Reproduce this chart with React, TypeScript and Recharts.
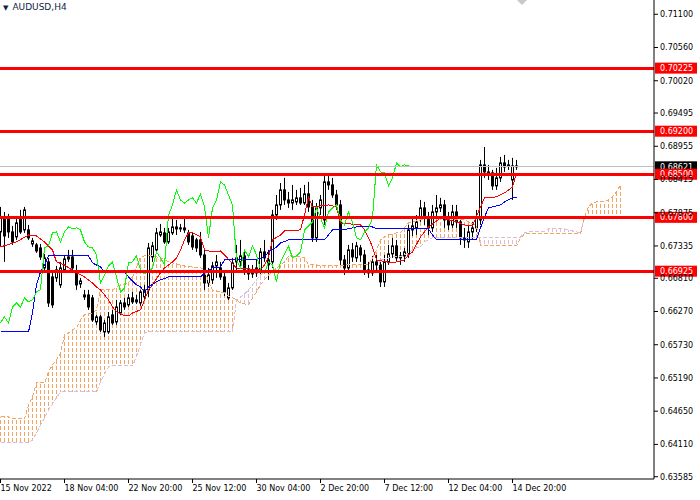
import { ComposedChart, Bar, Line, XAxis, YAxis, ReferenceLine } from 'recharts';

// AUDUSD H4 candles, bar 0 = 15 Nov 2022 12:00
const opens = [
  0.67563, 0.67791, 0.67791, 0.67563, 0.67482, 0.67807, 0.67596, 0.67596, 0.67368, 0.67352,
  0.67303, 0.66978, 0.67076, 0.66832, 0.66816, 0.66702, 0.66946, 0.67124, 0.67157, 0.66913,
  0.66718, 0.66539, 0.66539, 0.66491, 0.66101, 0.66182, 0.65938, 0.65938, 0.66214, 0.66101,
  0.66247, 0.66409, 0.66377, 0.66491, 0.66426, 0.66409, 0.66507, 0.66621, 0.67157, 0.67271,
  0.67514, 0.67547, 0.67401, 0.67547, 0.67644, 0.67612, 0.67628, 0.67547, 0.67498, 0.67433,
  0.67433, 0.67189, 0.66734, 0.66783, 0.67011, 0.66978, 0.66832, 0.66491, 0.66653, 0.67141,
  0.67076, 0.67173, 0.66946, 0.66881, 0.66897, 0.66946, 0.67238, 0.67108, 0.67076, 0.67839,
  0.68002, 0.68246, 0.68083, 0.68034, 0.68051, 0.68116, 0.68034, 0.68181, 0.67969, 0.67466,
  0.67953, 0.67758, 0.68376, 0.68327, 0.68164, 0.68002, 0.67108, 0.66978, 0.67271, 0.67141,
  0.67303, 0.67189, 0.66946, 0.66897, 0.67076, 0.67027, 0.66751, 0.67076, 0.67206, 0.67336,
  0.67141, 0.67173, 0.67206, 0.67596, 0.67628, 0.67807, 0.67953, 0.67791, 0.67628, 0.67888,
  0.67953, 0.68002, 0.67758, 0.67677, 0.67888, 0.67726, 0.67466, 0.67401, 0.67563, 0.67628,
  0.67758, 0.68652, 0.68538, 0.68522, 0.68311, 0.68441, 0.68684, 0.68636, 0.68408, 0.68636,
];
const highs = [
  0.67969, 0.67888, 0.67856, 0.67661, 0.67823, 0.67921, 0.67969, 0.67677, 0.67466, 0.67384,
  0.67368, 0.67206, 0.67141, 0.66913, 0.67011, 0.67076, 0.67189, 0.67271, 0.67271, 0.67027,
  0.66816, 0.66621, 0.66621, 0.66539, 0.66214, 0.66214, 0.66133, 0.66263, 0.66296, 0.66458,
  0.66458, 0.66491, 0.66556, 0.66588, 0.66539, 0.66621, 0.66702, 0.67384, 0.67401, 0.67628,
  0.67693, 0.67628, 0.67628, 0.67791, 0.67758, 0.67693, 0.67791, 0.67596, 0.67563, 0.67466,
  0.67563, 0.67271, 0.66978, 0.67076, 0.67189, 0.67076, 0.66913, 0.66734, 0.67141, 0.67352,
  0.67433, 0.67271, 0.67027, 0.67027, 0.67108, 0.67303, 0.67433, 0.67271, 0.67921, 0.68164,
  0.68359, 0.68441, 0.68213, 0.68327, 0.68246, 0.68278, 0.68327, 0.68376, 0.68083, 0.68034,
  0.68164, 0.68489, 0.68489, 0.68441, 0.68246, 0.68083, 0.67189, 0.67352, 0.67384, 0.67401,
  0.67352, 0.67271, 0.67076, 0.67173, 0.67189, 0.67076, 0.67189, 0.67352, 0.67466, 0.67433,
  0.67238, 0.67303, 0.67677, 0.67791, 0.67839, 0.68083, 0.68051, 0.67888, 0.68002, 0.68164,
  0.68116, 0.68083, 0.67888, 0.68002, 0.68002, 0.67791, 0.67628, 0.67677, 0.67726, 0.67921,
  0.68733, 0.68944, 0.68652, 0.68571, 0.68603, 0.68782, 0.68814, 0.68733, 0.68766, 0.68733,
];
const lows = [
  0.67319, 0.67076, 0.67466, 0.67352, 0.67433, 0.67531, 0.67547, 0.67433, 0.67319, 0.67222,
  0.67108, 0.66913, 0.66344, 0.66328, 0.66751, 0.66653, 0.66913, 0.67076, 0.66946, 0.66621,
  0.66653, 0.66458, 0.66296, 0.66101, 0.66052, 0.65938, 0.65857, 0.65906, 0.66052, 0.66052,
  0.66214, 0.66296, 0.66344, 0.66393, 0.66393, 0.66361, 0.66458, 0.66507, 0.67076, 0.67238,
  0.67482, 0.67368, 0.67368, 0.67514, 0.67514, 0.67563, 0.67547, 0.67352, 0.67271, 0.67238,
  0.67141, 0.66621, 0.66669, 0.66718, 0.66816, 0.66783, 0.66523, 0.66458, 0.66621, 0.66946,
  0.66978, 0.66864, 0.66783, 0.66816, 0.66832, 0.66864, 0.67076, 0.66783, 0.66978, 0.67758,
  0.67921, 0.68002, 0.67953, 0.67921, 0.68002, 0.68002, 0.68002, 0.67888, 0.67401, 0.67401,
  0.67839, 0.67677, 0.68246, 0.68116, 0.67921, 0.67027, 0.66864, 0.66913, 0.67076, 0.67076,
  0.67076, 0.66864, 0.66816, 0.66848, 0.66913, 0.66669, 0.66669, 0.67027, 0.67141, 0.67076,
  0.67027, 0.67076, 0.67141, 0.67498, 0.67514, 0.67726, 0.67677, 0.67514, 0.67563, 0.67791,
  0.67888, 0.67628, 0.67596, 0.67628, 0.67628, 0.67352, 0.67303, 0.67303, 0.67433, 0.67563,
  0.67677, 0.68441, 0.68408, 0.68246, 0.68246, 0.68376, 0.68538, 0.68571, 0.68083, 0.68571,
];
const closes = [
  0.67807, 0.67498, 0.67563, 0.67401, 0.67709, 0.67563, 0.67921, 0.67466, 0.67417, 0.67254,
  0.67157, 0.67141, 0.66409, 0.66377, 0.66946, 0.66978, 0.67124, 0.67157, 0.66978, 0.66702,
  0.66767, 0.66507, 0.66344, 0.66133, 0.66182, 0.65971, 0.66084, 0.66182, 0.66084, 0.66344,
  0.66409, 0.66344, 0.66491, 0.66426, 0.66458, 0.66588, 0.66621, 0.67303, 0.67336, 0.67547,
  0.67563, 0.67401, 0.67563, 0.67644, 0.67612, 0.67628, 0.67596, 0.67401, 0.67319, 0.67303,
  0.67189, 0.66734, 0.66864, 0.67011, 0.67076, 0.66832, 0.66588, 0.66653, 0.67059, 0.67076,
  0.67173, 0.66946, 0.66881, 0.66913, 0.66978, 0.67238, 0.67141, 0.67027, 0.67839, 0.68002,
  0.68246, 0.68083, 0.68034, 0.68083, 0.68116, 0.68034, 0.68181, 0.67969, 0.67466, 0.67953,
  0.68083, 0.68376, 0.68327, 0.68164, 0.68002, 0.67108, 0.66978, 0.67271, 0.67157, 0.67336,
  0.67189, 0.66946, 0.66897, 0.67076, 0.67027, 0.66751, 0.67076, 0.67206, 0.67336, 0.67141,
  0.67173, 0.67238, 0.67596, 0.67661, 0.67726, 0.67953, 0.67791, 0.67628, 0.67888, 0.67953,
  0.68002, 0.67758, 0.67677, 0.67888, 0.67726, 0.67466, 0.67433, 0.67563, 0.67628, 0.67791,
  0.68652, 0.68538, 0.68522, 0.68311, 0.68441, 0.68684, 0.68619, 0.68652, 0.68636, 0.68621,
];

// Ichimoku: tenkan / kijun turning points [bar, price]
const tenkan = [
  [0, 0.67319], [4, 0.67401], [7, 0.67514], [9, 0.67498], [11, 0.67401], [13, 0.67271], [14, 0.67076],
  [16, 0.67027], [19, 0.66897], [21, 0.66832], [23, 0.66734], [24, 0.66669], [25, 0.66621], [27, 0.66458],
  [28, 0.66344], [29, 0.66263], [31, 0.66198], [32, 0.66198], [33, 0.66247], [35, 0.66296], [36, 0.66458],
  [37, 0.66621], [38, 0.66702], [40, 0.66897], [41, 0.66978], [43, 0.67076], [44, 0.67141], [45, 0.67271],
  [46, 0.67433], [47, 0.67547], [48, 0.67547], [50, 0.67482], [51, 0.67271], [53, 0.67238], [55, 0.67254],
  [56, 0.67189], [59, 0.66978], [65, 0.66946], [66, 0.67027], [67, 0.67157], [68, 0.67433], [70, 0.67514],
  [71, 0.67579], [75, 0.67596], [76, 0.67839], [77, 0.68132], [78, 0.67969], [82, 0.68002], [84, 0.67969],
  [85, 0.67709], [90, 0.67677], [91, 0.67596], [92, 0.67466], [93, 0.67319], [94, 0.67108], [98, 0.67059],
  [101, 0.67108], [102, 0.67189], [103, 0.67238], [105, 0.67482], [107, 0.67644], [110, 0.67791],
  [114, 0.67726], [116, 0.67677], [118, 0.67661], [120, 0.67969], [121, 0.68116], [124, 0.68132],
  [126, 0.68197], [128, 0.68294], [129, 0.68522],
];
const kijun = [
  [0, 0.65938], [7, 0.65938], [8, 0.66247], [9, 0.66702], [10, 0.66913], [11, 0.67027], [12, 0.67173],
  [22, 0.67173], [23, 0.67059], [25, 0.66994], [26, 0.66913], [31, 0.66913], [32, 0.66832], [34, 0.66702],
  [35, 0.66669], [36, 0.66588], [37, 0.66669], [39, 0.66751], [40, 0.66783], [42, 0.66832], [50, 0.66832],
  [51, 0.66897], [53, 0.66978], [55, 0.66994], [56, 0.67108], [65, 0.67124], [66, 0.67157], [67, 0.67238],
  [69, 0.67319], [70, 0.67384], [72, 0.67433], [81, 0.67433], [82, 0.67514], [83, 0.67596], [87, 0.67612],
  [88, 0.67628], [89, 0.67644], [93, 0.67644], [94, 0.67612], [107, 0.67612], [108, 0.67514], [109, 0.67433],
  [119, 0.67433], [120, 0.67628], [121, 0.67807], [122, 0.67953], [123, 0.67969], [125, 0.68002],
  [126, 0.68051], [128, 0.68116], [129, 0.68116],
];

// senkou spans, one value per bar (26 bars past the last candle)
const spanA = [
  0.64557, 0.64557, 0.64557, 0.64524, 0.64524, 0.64524, 0.64524, 0.64752, 0.64882, 0.65109,
  0.65109, 0.65109, 0.65288, 0.65402, 0.65483, 0.65597, 0.65889, 0.65922, 0.65971, 0.66003,
  0.66133, 0.66214, 0.66231, 0.66247, 0.66296, 0.66621, 0.66621, 0.66621, 0.66621, 0.66669,
  0.66702, 0.66718, 0.66734, 0.66832, 0.66994, 0.67157, 0.67173, 0.67173, 0.67173, 0.67157,
  0.67141, 0.67108, 0.67076, 0.67059, 0.67043, 0.67027, 0.67011, 0.66994, 0.66994, 0.66978,
  0.66978, 0.66946, 0.66751, 0.66621, 0.66604, 0.66588, 0.66572, 0.66523, 0.66491, 0.66458,
  0.66409, 0.66393, 0.66377, 0.66491, 0.66588, 0.66702, 0.66783, 0.66864, 0.66913, 0.66978,
  0.67027, 0.67076, 0.67173, 0.67173, 0.67157, 0.67157, 0.67141, 0.67027, 0.67027, 0.67027,
  0.67011, 0.67011, 0.67011, 0.67011, 0.67011, 0.67011, 0.67027, 0.67027, 0.67027, 0.67027,
  0.67027, 0.67027, 0.67027, 0.67141, 0.67271, 0.67433, 0.67482, 0.67514, 0.67531, 0.67547,
  0.67547, 0.67628, 0.67709, 0.67726, 0.67742, 0.67758, 0.67774, 0.67791, 0.67791, 0.67791,
  0.67791, 0.67791, 0.67791, 0.67758, 0.67758, 0.67758, 0.67758, 0.67726, 0.67693, 0.67661,
  0.67336, 0.67336, 0.67336, 0.67336, 0.67336, 0.67336, 0.67336, 0.67336, 0.67336, 0.67336,
  0.67466, 0.67531, 0.67531, 0.67531, 0.67531, 0.67531, 0.67531, 0.67531, 0.67531, 0.67531,
  0.67531, 0.67531, 0.67531, 0.67531, 0.67531, 0.67531, 0.67807, 0.67969, 0.68034, 0.68051,
  0.68051, 0.68051, 0.68083, 0.68132, 0.68213, 0.68327,
];
const spanB = [
  0.64134, 0.64134, 0.64134, 0.64134, 0.64134, 0.64134, 0.64134, 0.64134, 0.64183, 0.64297,
  0.64427, 0.64541, 0.64671, 0.64768, 0.64866, 0.64963, 0.64963, 0.64963, 0.64963, 0.64963,
  0.64963, 0.64963, 0.64963, 0.64963, 0.64963, 0.65126, 0.65256, 0.65369, 0.65386, 0.65386,
  0.65386, 0.65386, 0.65386, 0.65386, 0.65532, 0.65727, 0.65922, 0.65938, 0.65938, 0.65938,
  0.65938, 0.65938, 0.65938, 0.65938, 0.65938, 0.65938, 0.65938, 0.65938, 0.65938, 0.65938,
  0.65938, 0.65938, 0.65938, 0.65938, 0.65938, 0.65938, 0.65938, 0.65938, 0.65938, 0.66458,
  0.66507, 0.66556, 0.66621, 0.66702, 0.66783, 0.66864, 0.66897, 0.66897, 0.66897, 0.66897,
  0.66897, 0.66897, 0.66897, 0.66897, 0.66897, 0.66897, 0.66897, 0.66897, 0.66897, 0.66897,
  0.66897, 0.66897, 0.66897, 0.66897, 0.66897, 0.66897, 0.66897, 0.66897, 0.66897, 0.66897,
  0.66897, 0.66897, 0.66897, 0.66897, 0.66897, 0.67108, 0.67124, 0.67141, 0.67157, 0.67157,
  0.67157, 0.67189, 0.67222, 0.67271, 0.67303, 0.67319, 0.67401, 0.67433, 0.67466, 0.67466,
  0.67466, 0.67466, 0.67466, 0.67466, 0.67466, 0.67466, 0.67466, 0.67466, 0.67466, 0.67466,
  0.67466, 0.67466, 0.67466, 0.67466, 0.67466, 0.67466, 0.67466, 0.67466, 0.67466, 0.67466,
  0.67482, 0.67547, 0.67563, 0.67563, 0.67563, 0.67563, 0.67563, 0.67612, 0.67612, 0.67612,
  0.67612, 0.67612, 0.67596, 0.67579, 0.67563, 0.67547, 0.67791, 0.67791, 0.67791, 0.67791,
  0.67791, 0.67791, 0.67791, 0.67791, 0.67791, 0.67791,
];

const levels = [0.70225, 0.692, 0.685, 0.678, 0.66925];
const bid = 0.68621;
const priceTicks = [
  0.711, 0.7056, 0.7002, 0.69495, 0.68955, 0.68415, 0.67875, 0.67335,
  0.6681, 0.6627, 0.6573, 0.6519, 0.6465, 0.6411, 0.63585,
];
const timeTicks = [0, 16, 32, 48, 64, 80, 96, 112, 128];
const timeLabels = [
  '15 Nov 2022', '18 Nov 04:00', '22 Nov 20:00', '25 Nov 12:00', '30 Nov 04:00',
  '2 Dec 20:00', '7 Dec 12:00', '12 Dec 04:00', '14 Dec 20:00',
];

const X_DOMAIN = [-0.125, 163.375];
const Y_DOMAIN = [0.63548, 0.71332];
const FONT = 'DejaVu Sans';

const rows = spanA.map((a, i) => {
  const b = spanB[i];
  const has = i < closes.length;
  return {
    i,
    a,
    b,
    cloud: [Math.min(a, b), Math.max(a, b)],
    o: has ? opens[i] : undefined,
    h: has ? highs[i] : undefined,
    l: has ? lows[i] : undefined,
    c: has ? closes[i] : undefined,
    hl: has ? [lows[i], highs[i]] : undefined,
  };
});
const tenkanRows = tenkan.map(([i, v]) => ({ i, v }));
const kijunRows = kijun.map(([i, v]) => ({ i, v }));
// chikou = close drawn 26 bars back
const chikouRows = closes.slice(26).map((v, i) => ({ i, v }));

const Candle = (props: any) => {
  const { x, y, width, height, payload } = props;
  if (payload == null || payload.o == null || !Number.isFinite(y) || !Number.isFinite(height)) return <g />;
  const top = Math.min(y, y + height);
  const bot = Math.max(y, y + height);
  const span = payload.h - payload.l;
  const py = (v: number) => (span > 0 ? top + ((payload.h - v) / span) * (bot - top) : top);
  const cx = Math.round(x + width / 2) + 0.5;
  const bTop = py(Math.max(payload.o, payload.c));
  const bBot = py(Math.min(payload.o, payload.c));
  const up = payload.c >= payload.o;
  return (
    <g>
      <line x1={cx} x2={cx} y1={top} y2={bot} stroke="#000" strokeWidth={1} />
      <rect
        x={cx - 1}
        y={bTop}
        width={2}
        height={Math.max(bBot - bTop, 0.5)}
        fill={up ? '#fff' : '#000'}
        stroke="#000"
        strokeWidth={1}
      />
    </g>
  );
};

const CloudHatch = (props: any) => {
  const { x, y, width, height, payload } = props;
  if (payload == null || !Number.isFinite(y) || !Number.isFinite(height)) return <g />;
  const top = Math.min(y, y + height);
  const bot = Math.max(y, y + height);
  const cx = Math.round(x + width / 2) + 0.5;
  const color = payload.a >= payload.b ? '#f4a460' : '#d8bfd8';
  return (
    <line x1={cx} x2={cx} y1={top} y2={bot} stroke={color} strokeWidth={1} strokeDasharray="4 2" strokeDashoffset={top % 6} />
  );
};

const priceTag = (value: number, bg: string) => (props: any) => {
  const vb = props.viewBox;
  if (!vb) return null;
  const left = vb.x + vb.width + 1;
  return (
    <g>
      <rect x={left} y={vb.y - 5.5} width={42} height={11} fill={bg} />
      <text x={left + 5} y={vb.y} dy="0.35em" fill="#fff" fontSize={8} fontFamily={FONT}>
        {value.toFixed(5)}
      </text>
    </g>
  );
};

const TimeTick = (props: any) => {
  const { x, y, payload } = props;
  const idx = timeTicks.indexOf(payload.value);
  return (
    <text x={x} y={y} dy="0.71em" textAnchor="start" fill="#000" fontSize={8} fontFamily={FONT}>
      {timeLabels[idx]}
    </text>
  );
};

export default function App() {
  return (
    <div style={{ position: 'absolute', left: 0, top: 0, width: 700, height: 500, background: '#fff' }}>
      <style>{`
        .recharts-line-curve { shape-rendering: crispEdges; }
        .recharts-reference-line-line { shape-rendering: crispEdges; }
      `}</style>
      <ComposedChart width={700} height={500} data={rows} margin={{ top: 0, right: 0, bottom: 0, left: 0 }}>
        <XAxis
          dataKey="i"
          type="number"
          domain={X_DOMAIN}
          ticks={timeTicks}
          interval={0}
          allowDataOverflow
          height={21}
          tickSize={4}
          tickLine={{ stroke: '#000' }}
          axisLine={{ stroke: '#000' }}
          tick={<TimeTick />}
        />
        <XAxis xAxisId="cloud" dataKey="i" type="number" domain={X_DOMAIN} allowDataOverflow hide />
        <YAxis
          orientation="right"
          width={46}
          domain={Y_DOMAIN}
          ticks={priceTicks}
          interval={0}
          allowDataOverflow
          tickSize={4}
          tickLine={{ stroke: '#000' }}
          axisLine={{ stroke: '#000' }}
          tick={{ fill: '#000', fontSize: 8, fontFamily: FONT }}
          tickFormatter={(v: number) => v.toFixed(5)}
        />
        <Bar xAxisId="cloud" dataKey="cloud" barSize={3} shape={<CloudHatch />} isAnimationActive={false} />
        <Line dataKey="a" stroke="#f4a460" strokeWidth={1} strokeDasharray="4 2" dot={false} isAnimationActive={false} />
        <Line dataKey="b" stroke="#d8bfd8" strokeWidth={1} strokeDasharray="4 2" dot={false} isAnimationActive={false} />
        <Bar dataKey="hl" barSize={3} shape={<Candle />} isAnimationActive={false} />
        <Line data={tenkanRows} dataKey="v" stroke="#ff0000" strokeWidth={1} dot={false} isAnimationActive={false} />
        <Line data={kijunRows} dataKey="v" stroke="#0000ff" strokeWidth={1} dot={false} isAnimationActive={false} />
        <Line data={chikouRows} dataKey="v" stroke="#00ff00" strokeWidth={1} dot={false} isAnimationActive={false} />
        <ReferenceLine y={bid} stroke="#c0c0c0" strokeWidth={1} label={priceTag(bid, '#000')} />
        {levels.map((lv) => (
          <ReferenceLine key={lv} y={lv} stroke="#ff0000" strokeWidth={3} label={priceTag(lv, '#ff0000')} />
        ))}
      </ComposedChart>
      <div
        style={{
          position: 'absolute',
          left: 3,
          top: 1,
          fontFamily: FONT,
          fontSize: 9,
          lineHeight: '12px',
          color: '#0f1e45',
          whiteSpace: 'nowrap',
        }}
      >
        <span style={{ fontSize: 7, marginRight: 4 }}>▼</span>AUDUSD,H4
      </div>
      <svg style={{ position: 'absolute', left: 0, top: 0 }} width={700} height={8}>
        <polygon points="517,0 527,0 522,5" fill="#c8c8c8" />
      </svg>
    </div>
  );
}
